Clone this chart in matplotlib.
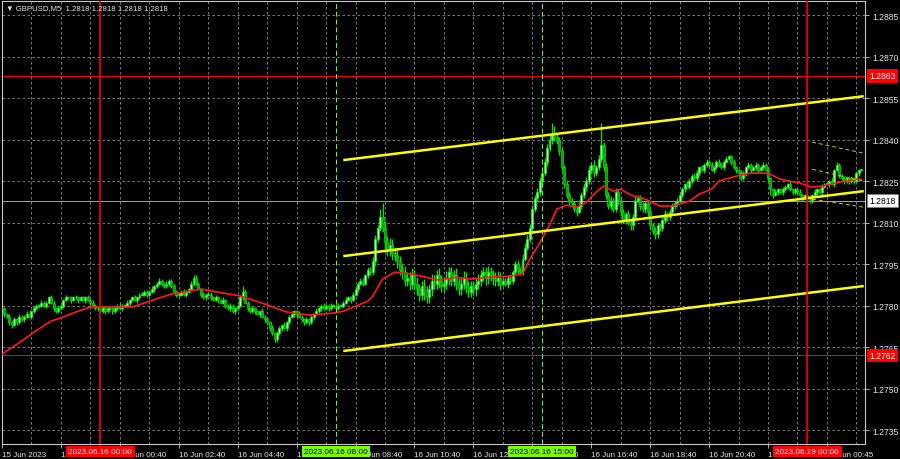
import numpy as np
import matplotlib
matplotlib.use('Agg')
import matplotlib.pyplot as plt
import matplotlib.transforms as mtransforms

plt.rcParams['font.family'] = ['Liberation Sans', 'DejaVu Sans']

BASE = 1.2700
PIP = 0.0001

# M5 closes, in pips above 1.2700, one row per hour (12 bars)
close_pips = [
    79, 77, 76, 74, 73, 75, 74, 76, 75, 76, 77, 76,
    78, 79, 80, 80, 81, 80, 81, 83, 81, 79, 78, 79,
    80, 82, 83, 83, 82, 83, 83, 82, 83, 82, 83, 82,
    81, 80, 79, 79, 78, 79, 78, 79, 79, 78, 79, 80,
    79, 80, 80, 81, 82, 83, 82, 83, 84, 84, 85, 84,
    85, 86, 87, 88, 89, 88, 87, 88, 89, 87, 85, 84,
    84, 85, 84, 85, 86, 88, 90, 88, 86, 84, 83, 84,
    84, 83, 82, 83, 82, 81, 82, 80, 79, 80, 78, 79,
    80, 83, 85, 81, 79, 78, 79, 78, 77, 78, 76, 75,
    74, 72, 70, 68, 70, 72, 73, 72, 74, 76, 77, 78,
    77, 76, 75, 74, 75, 74, 76, 77, 78, 79, 80, 79,
    80, 79, 80, 80, 79, 80, 80, 81, 82, 83, 82, 84,
    86, 88, 89, 88, 91, 93, 92, 96, 104, 108, 112, 108,
    103, 100, 102, 99, 98, 96, 93, 92, 89, 90, 88, 91,
    88, 86, 84, 87, 85, 83, 86, 89, 88, 91, 89, 87,
    88, 90, 92, 89, 91, 88, 86, 88, 90, 87, 85, 87,
    86, 88, 89, 91, 92, 90, 92, 91, 90, 89, 90, 88,
    89, 88, 90, 89, 92, 95, 93, 92, 97, 101, 104, 108,
    115, 119, 121, 125, 128, 132, 137, 140, 142, 141, 140, 136,
    130, 124, 120, 118, 117, 115, 114, 116, 120, 123, 125, 129,
    131, 128, 130, 133, 138, 130, 120, 116, 118, 115, 121, 118,
    114, 111, 113, 110, 109, 112, 118, 119, 116, 115, 117, 114,
    109, 107, 106, 109, 108, 111, 113, 112, 114, 116, 117, 118,
    120, 122, 124, 123, 125, 127, 126, 128, 130, 129, 131, 132,
    131, 129, 130, 132, 131, 130, 132, 133, 134, 132, 130, 129,
    128, 126, 128, 130, 131, 129, 130, 131, 129, 130, 131, 129,
    126, 122, 120, 121, 122, 121, 122, 123, 124, 122, 121, 122,
    121, 120, 119, 120, 119, 118, 120, 121, 122, 121, 123, 124,
    124, 125, 124, 129, 131, 127, 126, 125, 126, 125, 126, 125, 128, 129, 129,
]
first_open = 79

# wicks beyond the body, in half pips
wick_up = [
    2, 1, 1, 2, 1, 2, 1, 2, 1, 1, 2, 1,
    1, 2, 1, 1, 2, 1, 1, 1, 2, 1, 1, 2,
    1, 1, 2, 1, 1, 1, 2, 1, 1, 1, 1, 2,
    1, 2, 1, 1, 2, 1, 1, 1, 2, 1, 1, 1,
    2, 1, 1, 2, 1, 1, 2, 1, 1, 2, 1, 1,
    1, 2, 1, 1, 2, 1, 1, 2, 1, 1, 2, 1,
    1, 1, 2, 1, 1, 2, 2, 2, 1, 1, 2, 1,
    1, 2, 1, 2, 1, 1, 2, 1, 1, 2, 1, 1,
    1, 2, 4, 2, 1, 1, 2, 1, 1, 1, 2, 1,
    1, 1, 2, 1, 2, 1, 1, 2, 1, 1, 2, 1,
    1, 2, 1, 1, 2, 1, 1, 1, 2, 1, 1, 2,
    1, 1, 2, 1, 1, 2, 1, 1, 2, 1, 1, 2,
    2, 1, 2, 2, 1, 2, 2, 3, 3, 2, 6, 10,
    5, 4, 5, 4, 4, 5, 4, 4, 5, 4, 4, 5,
    4, 5, 4, 4, 5, 4, 4, 5, 4, 4, 5, 4,
    4, 5, 4, 4, 4, 5, 4, 4, 5, 4, 4, 4,
    4, 4, 5, 4, 4, 4, 5, 4, 4, 4, 5, 4,
    2, 2, 2, 3, 2, 2, 3, 2, 3, 3, 3, 3,
    3, 2, 3, 3, 3, 3, 3, 3, 8, 6, 3, 2,
    3, 2, 3, 2, 2, 2, 2, 3, 2, 3, 3, 3,
    2, 3, 2, 3, 16, 2, 3, 2, 3, 2, 3, 2,
    3, 2, 2, 3, 2, 2, 3, 2, 2, 3, 2, 2,
    2, 2, 3, 2, 2, 2, 3, 2, 2, 2, 2, 2,
    2, 2, 1, 2, 2, 1, 2, 2, 1, 2, 1, 2,
    1, 2, 1, 1, 2, 1, 1, 2, 1, 1, 2, 1,
    1, 2, 1, 1, 2, 1, 1, 2, 1, 1, 2, 1,
    2, 1, 1, 2, 1, 1, 2, 1, 1, 2, 1, 1,
    1, 2, 1, 1, 2, 1, 1, 2, 1, 1, 2, 1,
    1, 1, 2, 1, 2, 1, 1, 2, 1, 1, 2, 1, 1, 1, 1,
]
wick_dn = [
    1, 2, 1, 2, 2, 1, 2, 1, 1, 2, 1, 1,
    2, 1, 1, 2, 1, 1, 2, 1, 1, 2, 1, 1,
    1, 2, 1, 1, 2, 1, 1, 2, 1, 1, 2, 1,
    2, 1, 1, 2, 1, 1, 2, 1, 1, 2, 1, 1,
    1, 2, 1, 1, 2, 1, 1, 2, 1, 1, 1, 2,
    1, 1, 2, 1, 1, 2, 1, 1, 2, 1, 1, 2,
    2, 1, 1, 2, 1, 1, 2, 1, 1, 2, 1, 2,
    1, 2, 1, 1, 2, 1, 1, 2, 1, 2, 1, 2,
    1, 1, 2, 1, 2, 1, 1, 2, 1, 2, 1, 2,
    2, 2, 1, 2, 2, 1, 2, 1, 2, 1, 1, 2,
    2, 1, 2, 2, 1, 2, 1, 2, 1, 1, 2, 1,
    1, 2, 1, 1, 2, 1, 1, 2, 1, 1, 2, 1,
    1, 2, 1, 2, 1, 2, 2, 2, 3, 2, 2, 3,
    5, 4, 4, 5, 4, 5, 4, 5, 4, 4, 5, 4,
    5, 4, 5, 4, 6, 4, 4, 5, 4, 4, 5, 4,
    4, 4, 5, 4, 4, 5, 4, 4, 4, 5, 4, 4,
    4, 5, 4, 4, 4, 5, 4, 4, 5, 4, 4, 5,
    2, 2, 3, 2, 2, 2, 3, 2, 2, 2, 2, 2,
    2, 2, 2, 3, 2, 2, 3, 2, 3, 3, 3, 3,
    3, 3, 2, 3, 3, 2, 3, 2, 2, 2, 3, 2,
    2, 3, 2, 2, 2, 3, 3, 2, 3, 2, 2, 3,
    3, 2, 3, 2, 3, 3, 2, 2, 3, 2, 3, 3,
    3, 2, 4, 3, 2, 2, 2, 3, 2, 2, 2, 2,
    2, 2, 2, 1, 2, 2, 1, 2, 2, 1, 2, 2,
    2, 1, 2, 1, 2, 1, 2, 1, 1, 2, 1, 2,
    2, 2, 1, 2, 1, 2, 1, 2, 2, 1, 2, 1,
    2, 4, 2, 1, 2, 1, 2, 1, 2, 1, 2, 1,
    2, 1, 2, 1, 2, 2, 2, 1, 2, 1, 2, 1,
    1, 2, 1, 2, 1, 2, 1, 2, 1, 2, 1, 2, 1, 2, 1,
]

# red moving average, read at anchor bars (pips above 1.2700)
ma_idx = [0, 8, 13, 20, 25, 31, 36, 44, 53, 60, 69, 81, 88, 97, 107, 116, 125, 135, 139, 149,
          151, 155, 160, 167, 178, 185, 191, 199, 207, 212, 215, 219, 223, 226, 230, 234, 238, 242,
          245, 249, 252, 256, 262, 268, 273, 280, 284, 289, 292, 299, 305, 312, 317, 325, 330, 334,
          341, 348, 350]
ma_pips = [62.5, 67.2, 70.4, 74.4, 75.9, 78.0, 79.5, 79.5, 79.5, 81.6, 84.2, 86.0, 84.9, 83.5,
           80.6, 77.7, 76.6, 77.3, 78.0, 81.6, 83.4, 89.6, 92.1, 91.4, 89.2, 90.3, 89.6, 90.3,
           90.7, 91.4, 96.8, 102.6, 109.1, 114.9, 116.3, 115.6, 117.4, 121.0, 123.2, 121.4, 122.1,
           120.0, 118.5, 116.0, 116.0, 117.8, 120.3, 122.1, 125.0, 126.8, 127.9, 127.9, 125.7,
           124.3, 122.8, 123.2, 124.6, 125.7, 125.7]

# regression channels (bar index ends, prices)
chan_x = [139, 351]
chan_top = [1.28326, 1.28557]
chan_mid = [1.27979, 1.28214]
chan_bot = [1.27636, 1.27871]
small_x = [330, 351]
small_top = [1.28391, 1.28351]
small_mid = [1.28293, 1.28250]
small_bot = [1.28185, 1.28156]

level_red = [1.2863, 1.2762]
level_bid = 1.2818
red_vlines = [40, 328]
red_vlabels = ['2023.06.16 00:00', '2023.06.19 00:00']
green_vlines = [136, 220]
green_vlabels = ['2023.06.16 08:00', '2023.06.16 15:00']

y_ticks = [1.2735, 1.2750, 1.2765, 1.2780, 1.2795, 1.2810, 1.2825, 1.2840, 1.2855, 1.2870, 1.2885]
x_tick_idx = [0, 24, 48, 72, 96, 120, 144, 168, 192, 216, 240, 264, 288, 312, 336]
x_tick_labels = ['15 Jun 2023', '15 Jun 22:40', '16 Jun 00:40', '16 Jun 02:40', '16 Jun 04:40',
                 '16 Jun 06:40', '16 Jun 08:40', '16 Jun 10:40', '16 Jun 12:40', '16 Jun 14:40',
                 '16 Jun 16:40', '16 Jun 18:40', '16 Jun 20:40', '16 Jun 22:40', '19 Jun 00:45']
title = '\u25bc GBPUSD,M5  1.2818 1.2818 1.2818 1.2818'

assert len(close_pips) == len(wick_up) == len(wick_dn)
assert len(ma_idx) == len(ma_pips)

#
# build candles
#
n = len(close_pips)
idx = np.arange(n)
close = BASE + np.array(close_pips) * PIP
opens = np.concatenate([[BASE + first_open * PIP], close[:-1]])
high = np.maximum(opens, close) + np.array(wick_up) * PIP / 2
low = np.minimum(opens, close) - np.array(wick_dn) * PIP / 2
up = close >= opens

fig = plt.figure(figsize=(9, 4.6), dpi=100, facecolor='black')
ax = fig.add_axes([2 / 900, 15 / 460, 863 / 900, 443 / 460], facecolor='black')
ax.set_xlim(0, 351.5)
ax.set_ylim(1.27300, 1.28901)

grid_kw = dict(color='#8c8c8c', lw=0.6, linestyle=(0, (3, 3)), zorder=0.5)
for yv in y_ticks:
    ax.axhline(yv, **grid_kw)
for xv in range(12, n, 12):
    ax.axvline(xv, **grid_kw)

for lv in level_red:
    ax.axhline(lv, color='#ff0000', lw=0.7, zorder=1)
ax.axhline(level_bid, color='#a0a0a0', lw=0.7, zorder=1)

ax.vlines(idx, low, high, color='#00e800', lw=0.9, zorder=2)
body_lo = np.minimum(opens, close)
body_h = np.maximum(np.abs(close - opens), 0.00003)
ax.bar(idx[up], body_h[up], bottom=body_lo[up], width=0.8, color='#b0ffb0',
       edgecolor='#00ff00', lw=0.5, zorder=3)
ax.bar(idx[~up], body_h[~up], bottom=body_lo[~up], width=0.8, color='#00a800',
       edgecolor='#00e000', lw=0.5, zorder=3)

ax.plot(ma_idx, BASE + np.array(ma_pips) * PIP, color='#ff1a1a', lw=1.2, zorder=4)

for ys in (chan_top, chan_mid, chan_bot):
    ax.plot(chan_x, ys, color='#ffff00', lw=1.8, zorder=4, solid_capstyle='butt')
for ys in (small_top, small_mid, small_bot):
    ax.plot(small_x, ys, color='#c8c800', lw=0.7, linestyle=(0, (4, 3)), zorder=4)

for xv in red_vlines:
    ax.axvline(xv, color='#ff0000', lw=1.2, zorder=5)
for xv in green_vlines:
    ax.axvline(xv, color='#7fff00', lw=0.7, linestyle=(0, (5, 3)), zorder=5)

#
# axes styling
#
for sp in ax.spines.values():
    sp.set_color('#c8c8c8')
    sp.set_linewidth(0.8)
ax.yaxis.tick_right()
ax.set_yticks(y_ticks)
ax.set_yticklabels(['%.4f' % v for v in y_ticks])
ax.tick_params(axis='y', colors='#c8c8c8', labelcolor='#e6e6e6', length=3, width=0.6,
               labelsize=6.2, pad=2)
ax.set_xticks(x_tick_idx)
ax.set_xticklabels(x_tick_labels)
ax.tick_params(axis='x', colors='#c8c8c8', labelcolor='#e6e6e6', length=3, width=0.6,
               labelsize=5.8, pad=2)
for lbl in ax.get_xticklabels():
    lbl.set_ha('left')

# coloured tags drawn on the figure so they sit above the tick labels
tx = mtransforms.blended_transform_factory(ax.transData, ax.transAxes)
for xv, txt in zip(red_vlines, red_vlabels):
    fig.text(xv, -0.009, txt, transform=tx, ha='center', va='top', fontsize=5.9, color='white',
             bbox=dict(boxstyle='square,pad=0.3', fc='#ff0000', ec='none'), zorder=10)
for xv, txt in zip(green_vlines, green_vlabels):
    fig.text(xv, -0.009, txt, transform=tx, ha='center', va='top', fontsize=5.9, color='black',
             bbox=dict(boxstyle='square,pad=0.3', fc='#7cfc00', ec='none'), zorder=10)

ty = mtransforms.blended_transform_factory(ax.transAxes, ax.transData)
for lv in level_red:
    fig.text(1.005, lv, '%.4f' % lv, transform=ty, ha='left', va='center', fontsize=6.2,
             color='white', bbox=dict(boxstyle='square,pad=0.25', fc='#ff0000', ec='none'),
             zorder=10)
fig.text(1.005, level_bid, '%.4f' % level_bid, transform=ty, ha='left', va='center', fontsize=6.2,
         color='black', bbox=dict(boxstyle='square,pad=0.25', fc='white', ec='#808080', lw=0.5),
         zorder=10)

fig.text(6 / 900, 1 - 9 / 460, title, color='#e6e6e6', fontsize=5.6, ha='left', va='center')

fig.savefig('out.png', dpi=100, facecolor='black')
plt.close()
